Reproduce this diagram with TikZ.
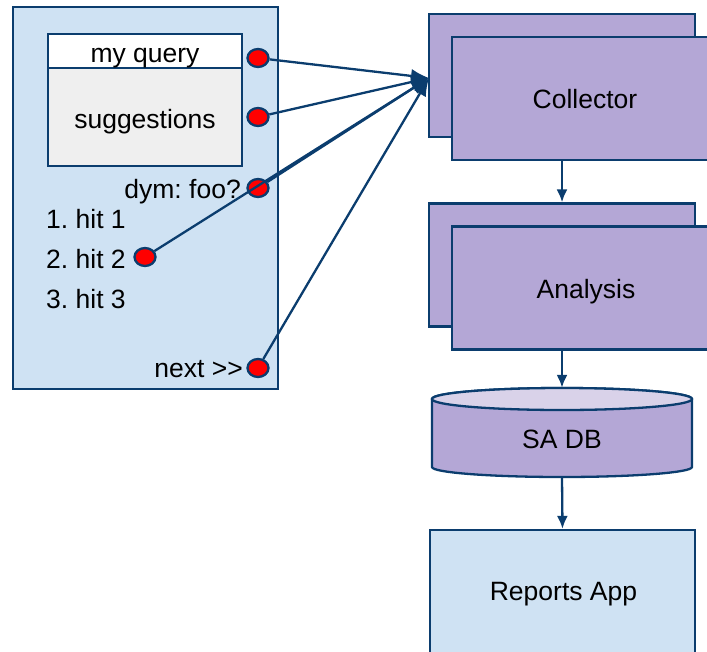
\documentclass[tikz,border=0pt]{standalone}
\usepackage{fontspec}
\setmainfont{Liberation Sans}
\usetikzlibrary{arrows.meta,shapes.geometric}
\definecolor{edge}{HTML}{0B3D6E}
\definecolor{lblue}{HTML}{CFE2F3}
\definecolor{lpurple}{HTML}{B4A7D6}
\definecolor{ltop}{HTML}{D9D2E9}
\definecolor{lgray}{HTML}{EFEFEF}
\begin{document}
\begin{tikzpicture}[x=1pt,y=-1pt,
  font=\fontsize{26.5}{30}\selectfont\frenchspacing,
  box/.style={draw=edge, line width=2.3pt, inner sep=0pt},
  txt/.style={inner sep=0pt, anchor=base},
  dot/.style={ellipse, draw=edge, line width=2.3pt, fill=red, inner sep=0pt, minimum width=21pt, minimum height=18pt},
  arr/.style={draw=edge, line width=2.3pt, -{Latex[length=13pt,width=11pt]}},
  bigarr/.style={draw=edge, line width=2.3pt, -{Latex[length=18pt,width=14pt]}},
]
\useasboundingbox (0,0) rectangle (707,651);
\clip (0,0) rectangle (707,651);

% left panel
\node[box, fill=lblue, minimum width=265pt, minimum height=382pt] (panel) at (145.5,198) {};
\node[box, fill=white, minimum width=194pt, minimum height=34pt] (query) at (145,51) {};
\node[box, fill=lgray, minimum width=194pt, minimum height=98pt] (sugg) at (145,117) {};
\node[txt] (tquery) at (145,62) {my query};
\node[txt] (tsugg) at (145,128) {suggestions};
\node[txt, anchor=base east] (tdym) at (241,198) {dym: foo?};
\node[txt, anchor=base west] (th1) at (46,228) {1. hit 1};
\node[txt, anchor=base west] (th2) at (46,268) {2. hit 2};
\node[txt, anchor=base west] (th3) at (46,308) {3. hit 3};
\node[txt, anchor=base east] (tnext) at (243,377) {next >{}>};

% right column
\node[box, fill=lpurple, minimum width=266pt, minimum height=123pt] (colback) at (562,75.5) {};
\node[box, fill=lpurple, minimum width=266pt, minimum height=123pt] (colfront) at (585,98.5) {};
\node[txt] (tcol) at (585,108) {Collector};

\node[box, fill=lpurple, minimum width=266pt, minimum height=123pt] (anaback) at (562,265) {};
\node[box, fill=lpurple, minimum width=266pt, minimum height=123pt] (anafront) at (585,288) {};
\node[txt] (tana) at (586,298) {Analysis};

% database cylinder
\node[inner sep=0pt, minimum width=260pt, minimum height=89pt] (db) at (562,432.5) {};
\path[fill=lpurple, draw=edge, line width=2.3pt] (432,399) -- (432,467)
  arc[start angle=180, end angle=0, x radius=130, y radius=10] -- (692,399)
  arc[start angle=0, end angle=-180, x radius=130, y radius=11] -- cycle;
\draw[fill=ltop, draw=edge, line width=2.3pt] (562,399) ellipse[x radius=130, y radius=11];
\node[txt] (tdb) at (562,448) {SA DB};

\node[box, fill=lblue, minimum width=265pt, minimum height=125pt] (rep) at (562.5,592.5) {};
\node[txt] (trep) at (563.5,600) {Reports App};

% vertical arrows
\draw[arr] (colfront.south -| colback.south) -- (anaback.north);
\draw[arr] (anafront.south -| anaback.south) -- (db.north);
\draw[arr] (db.south) -- (rep.north);

% red dots and connectors
\coordinate (T) at (429,78);
\node[dot] (d1) at (258,58) {};
\node[dot] (d2) at (258,117) {};
\node[dot] (d3) at (258,188) {};
\node[dot] (d4) at (145,257) {};
\node[dot] (d5) at (258,368) {};
\draw[bigarr] (d1) -- (T);
\draw[bigarr] (d2) -- (T);
\draw[bigarr] (d3) -- (T);
\draw[bigarr] (d4) -- (T);
\draw[bigarr] (d5) -- (T);
\end{tikzpicture}
\end{document}
